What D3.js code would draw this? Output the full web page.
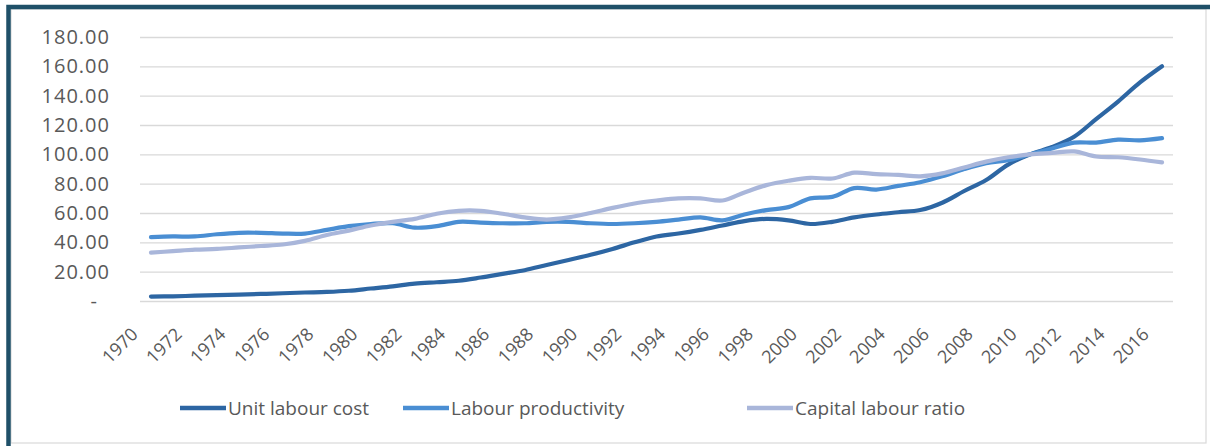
<!DOCTYPE html>
<html>
<head>
<meta charset="utf-8">
<script src="https://cdn.jsdelivr.net/npm/d3@7"></script>
<style>
  html, body { margin: 0; padding: 0; background: #ffffff; }
  svg { display: block; }
</style>
</head>
<body>
<svg id="chart" width="1210" height="446"></svg>
<script>
// ---- Data ----
const years = d3.range(1970, 2017);
const unitLabourCost = [3, 3.2, 3.6, 4, 4.4, 4.8, 5.3, 5.8, 6.2, 7, 8.5, 10, 11.8, 12.8, 13.8, 16, 18.5, 21, 24.5, 28,
  31.5, 35.5, 40, 44, 46, 48.5, 51.5, 54.5, 56, 55, 52.5, 54, 57, 59, 60.5, 62, 67, 75, 82.5, 93,
  100, 105, 112, 124, 136, 149, 160];
const labourProductivity = [43.5, 44, 44, 45.5, 46.5, 46.5, 46, 46, 48.5, 51, 52.5, 53, 50, 51, 54, 53.5, 53, 53, 54, 54,
  53, 52.5, 53, 54, 55.5, 57, 55, 59, 62, 64, 70, 71, 77, 76, 78.5, 81, 85, 90, 94, 96,
  100, 104, 108, 108, 110, 109.5, 111];
const capitalLabourRatio = [33, 34, 35, 35.5, 36.5, 37.5, 38.5, 41, 45, 48, 51.5, 54, 56, 59.5, 61.5, 61.5, 59.5, 57, 55.5, 57,
  60, 63.5, 66.5, 68.5, 70, 70, 68.5, 74, 79, 82, 84, 83.5, 87.5, 86.5, 86, 85, 87, 91, 95, 98,
  100, 101, 102, 98.5, 98, 96.5, 94.5];
const seriesNames = ["Unit labour cost", "Labour productivity", "Capital labour ratio"];
const seriesColors = ["#2d66a3", "#4a8ed3", "#a9b6da"];
const yTicks = [0, 20, 40, 60, 80, 100, 120, 140, 160, 180];
const xTickYears = years.filter(y => (y - 1970) % 2 === 0);

const seriesValues = [unitLabourCost, labourProductivity, capitalLabourRatio];

// ---- Layout ----
const svg = d3.select("#chart");
const plot = { left: 140, right: 1173, top: 37, bottom: 301 };
const textColor = "#595959";
const font = "'Open Sans', 'DejaVu Sans', sans-serif";

// Frame
svg.append("rect").attr("x", 11).attr("y", 9).attr("width", 1195).attr("height", 434)
  .attr("fill", "#ffffff").attr("stroke", "#d9d9d9").attr("stroke-width", 1.2);
svg.append("path").attr("d", "M8.5,446 L8.5,7 L1210,7")
  .attr("fill", "none").attr("stroke", "#1f5068").attr("stroke-width", 4.5);

const x = d3.scalePoint().domain(years).range([plot.left, plot.right]).padding(0.5);
const y = d3.scaleLinear().domain([0, 180]).range([plot.bottom, plot.top]);

// Gridlines
svg.append("g")
  .attr("transform", `translate(${plot.left},0)`)
  .call(d3.axisLeft(y).tickValues(yTicks).tickSize(-(plot.right - plot.left)).tickFormat(""))
  .call(g => g.select(".domain").remove())
  .call(g => g.selectAll("line").attr("stroke", "#d9d9d9").attr("stroke-width", 1.3));

// Y axis labels
svg.append("g")
  .attr("transform", `translate(${plot.left},0)`)
  .call(d3.axisLeft(y).tickValues(yTicks).tickSize(0).tickPadding(30)
    .tickFormat(d => d === 0 ? "-" : d3.format(".2f")(d)))
  .call(g => g.select(".domain").remove())
  .call(g => g.selectAll("text")
    .attr("fill", textColor).style("font-family", font).style("font-size", "20px")
    .style("letter-spacing", "1px")
    .attr("dx", d => d === 0 ? -12 : 0));

// X axis labels
svg.append("g")
  .attr("transform", `translate(0,${plot.bottom})`)
  .call(d3.axisBottom(x).tickValues(xTickYears).tickSize(0).tickFormat(d => String(d)))
  .call(g => g.select(".domain").remove())
  .call(g => g.selectAll("text")
    .attr("fill", textColor).style("font-family", font).style("font-size", "18px")
    .attr("text-anchor", "end")
    .attr("x", 0).attr("y", 0).attr("dy", "0.35em")
    .attr("transform", "translate(-17,30) rotate(-45)"));

// Lines
const line = d3.line()
  .x((d, i) => x(years[i]))
  .y(d => y(d))
  .curve(d3.curveCatmullRom.alpha(0.5));

svg.append("g").selectAll("path")
  .data(seriesValues)
  .join("path")
  .attr("d", d => line(d))
  .attr("fill", "none")
  .attr("stroke", (d, i) => seriesColors[i])
  .attr("stroke-width", 4.2)
  .attr("stroke-linecap", "round")
  .attr("stroke-linejoin", "round");

// Legend
const legendX = [180, 403, 747];
const legend = svg.append("g").selectAll("g")
  .data(seriesNames)
  .join("g")
  .attr("transform", (d, i) => `translate(${legendX[i]},408)`);
legend.append("line")
  .attr("x1", 0).attr("x2", 46).attr("y1", 0).attr("y2", 0)
  .attr("stroke", (d, i) => seriesColors[i]).attr("stroke-width", 4.5);
legend.append("text")
  .attr("x", 48).attr("y", 0).attr("dy", "0.35em")
  .attr("fill", textColor).style("font-family", font).style("font-size", "19px")
  .text(d => d);
</script>
</body>
</html>
